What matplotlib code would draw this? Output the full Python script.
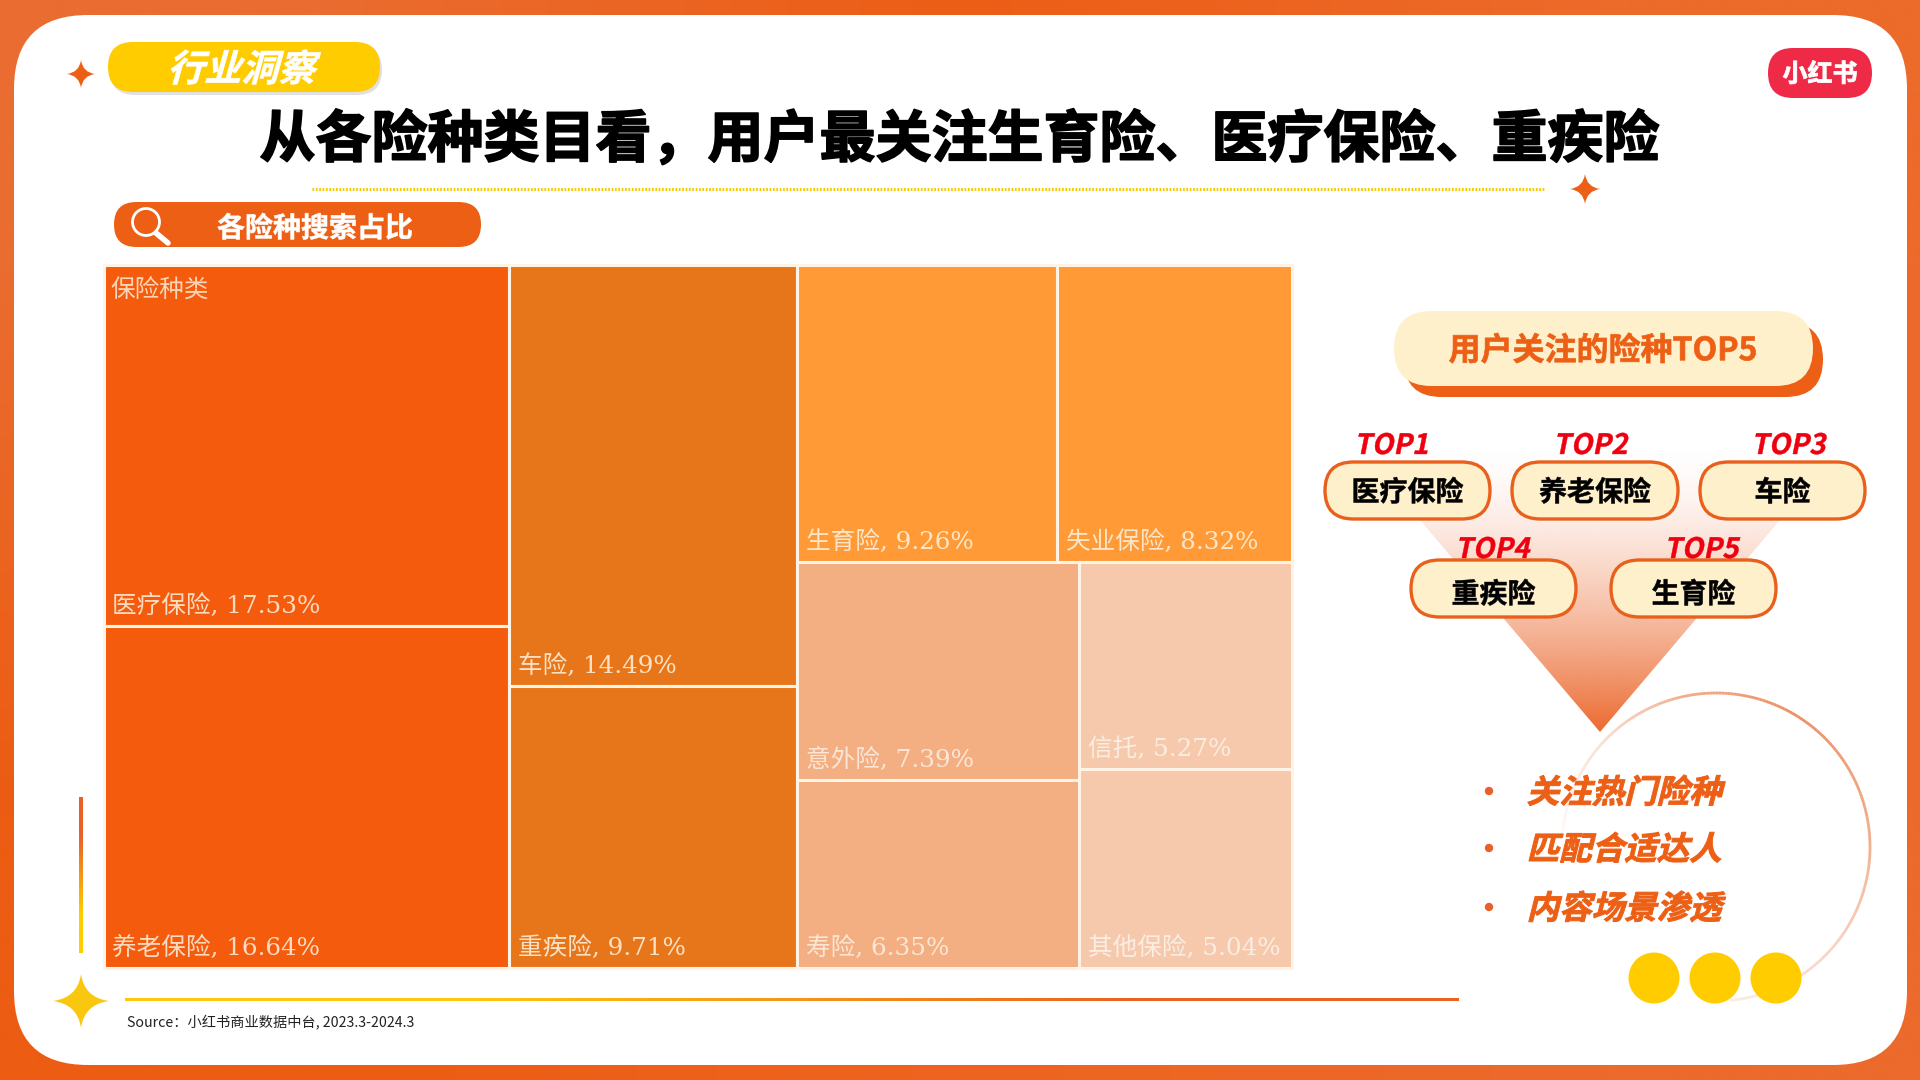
import numpy as np
import matplotlib
matplotlib.use("Agg")
import matplotlib.pyplot as plt
from matplotlib.patches import FancyBboxPatch, Polygon, Circle, PathPatch, Rectangle
from matplotlib.path import Path
from matplotlib.collections import LineCollection
from matplotlib.colors import to_rgb
from matplotlib.patheffects import AbstractPathEffect
from matplotlib.transforms import Affine2D

# ---------- data ----------
categories = ["医疗保险", "养老保险", "车险", "重疾险", "生育险", "失业保险", "意外险", "寿险", "信托", "其他保险"]
shares = [17.53, 16.64, 14.49, 9.71, 9.26, 8.32, 7.39, 6.35, 5.27, 5.04]
tile_colors = ["#F55B0D", "#F55B0D", "#E7761B", "#E7761B", "#FF9A37", "#FF9A37", "#F3AE82", "#F3AE82", "#F6C9AC", "#F6C9AC"]
label_colors = ["#FBDCC0", "#FBDCC0", "#FBE0C4", "#FBE0C4", "#FDE6C8", "#FDE6C8", "#FBE6D6", "#FBE6D6", "#FAEDE2", "#FAEDE2"]
tree = [[0, 1], [2, 3], [[4, 5], [[6, 7], [8, 9]]]]
root_label = "保险种类"
top_labels = ["TOP1", "TOP2", "TOP3", "TOP4", "TOP5"]
top_names = ["医疗保险", "养老保险", "车险", "重疾险", "生育险"]
bullets = ["关注热门险种", "匹配合适达人", "内容场景渗透"]

CJK = "Noto Sans CJK SC"
plt.rcParams["font.family"] = [CJK, "DejaVu Sans"]
LABEL_FONT = ["DejaVu Serif", CJK]
PX = 0.72
ORANGE = "#EC5F14"
YELLOW = "#FFCC00"
CREAM = "#FFF0CC"


class Styled(AbstractPathEffect):
    """Draw glyphs sheared about a baseline and/or thickened with a stroke."""
    def __init__(self, shear=0.0, y0=0.0, stroke=0.0):
        self.shear, self.y0, self.stroke = shear, y0, stroke

    def draw_path(self, renderer, gc, tpath, affine, rgbFace=None):
        a = affine
        if self.shear:
            a = affine + Affine2D().translate(0, -self.y0).skew(np.arctan(self.shear), 0).translate(0, self.y0)
        if self.stroke:
            g = renderer.new_gc()
            g.copy_properties(gc)
            g.set_linewidth(self.stroke)
            g.set_foreground(rgbFace)
            g.set_joinstyle("round")
            renderer.draw_path(g, tpath, a, rgbFace)
            g.restore()
        else:
            renderer.draw_path(gc, tpath, a, rgbFace)


fig = plt.figure(figsize=(19.2, 10.8), dpi=100)
ax = fig.add_axes([0, 0, 1, 1])
ax.axis("off")


def txt(x, y, s, px, color="black", ha="center", shear=0.0, stroke=0.0, weight="bold", z=10, family=None):
    y = y + 0.07 * px
    t = ax.text(x, y, s, fontsize=px * PX, color=color, ha=ha, va="center", weight=weight, zorder=z,
                family=family if family else [CJK, "DejaVu Sans"])
    if shear or stroke:
        t.set_path_effects([Styled(shear, 1080 - y, stroke)])
    return t


def pill(x0, y0, x1, y1, fc, ec="none", lw=0, z=5, alpha=None, r=None):
    r = (y1 - y0) / 2 if r is None else r
    p = FancyBboxPatch((x0, y0), x1 - x0, y1 - y0, boxstyle=f"round,pad=0,rounding_size={r}",
                       fc=fc, ec=ec, lw=lw, zorder=z, alpha=alpha, mutation_aspect=1)
    ax.add_patch(p)
    return p


def star(cx, cy, rx, ry, color, z=6):
    k = 0.12
    v = [(cx, cy - ry), (cx + rx * k, cy - ry * k), (cx + rx, cy), (cx + rx * k, cy + ry * k),
         (cx, cy + ry), (cx - rx * k, cy + ry * k), (cx - rx, cy), (cx - rx * k, cy - ry * k), (cx, cy - ry)]
    c = [Path.MOVETO] + [Path.CURVE3] * 8
    ax.add_patch(PathPatch(Path(v, c), fc=color, ec="none", zorder=z))


def gradient_line(x0, y0, x1, y1, c0, c1, z=4):
    a = np.array([to_rgb(c0), to_rgb(c1)])
    arr = a[None, :, :] if (x1 - x0) > (y1 - y0) else a[:, None, :]
    ax.imshow(arr, extent=(x0, x1, y1, y0), aspect="auto", interpolation="bilinear", zorder=z)


# ---------- frame ----------
ax.imshow(np.array([[to_rgb("#EA6C30"), to_rgb("#EC5E16"), to_rgb("#EC6A2A")],
                    [to_rgb("#EC5C12"), to_rgb("#EE6420"), to_rgb("#EB6A2C")]]),
          extent=(0, 1920, 1080, 0), aspect="auto", interpolation="bilinear", zorder=0)
pill(14, 15, 1907, 1065, "white", z=1, r=74)

# ---------- header ----------
pill(110, 45, 382, 95, "#000000", z=3, alpha=0.12)
pill(108, 42, 380, 92, YELLOW, z=4)
txt(244, 68, "行业洞察", 37, "white", shear=0.28, stroke=0.4)
star(81, 74, 14, 14, "#EC5F14")
txt(959.5, 137, "从各险种类目看，用户最关注生育险、医疗保险、重疾险", 56, "black", stroke=1.2)
ax.plot([312, 1545], [189, 189], color="#F5C800", lw=2.2, ls=(0, (0.55, 0.55)), zorder=3)
star(1585, 189, 15, 15, "#EC5F14")

pill(114, 202, 481, 247, ORANGE)
txt(315, 227, "各险种搜索占比", 28, "white", stroke=0.4)
ax.add_patch(Circle((146, 222), 13.5, fc="none", ec="white", lw=2.0, zorder=7))
ax.plot([156, 168], [233, 243], color="white", lw=4, solid_capstyle="round", zorder=7)

pill(1768, 48, 1872, 98, "#EE2A47")
txt(1820, 73, "小红书", 25, "white", stroke=0.6)

# ---------- treemap ----------
X0, X1, Y0, Y1 = 103.5, 1291.5, 265, 968
tm = fig.add_axes([X0 / 1920, 1 - Y1 / 1080, (X1 - X0) / 1920, (Y1 - Y0) / 1080])
tm.set_xlim(0, 1)
tm.set_ylim(1, 0)
tm.axis("off")
tm.set_zorder(2)


def weight(node):
    return shares[node] if isinstance(node, int) else sum(weight(n) for n in node)


def lay(node, x, y, w, h, depth, out):
    if isinstance(node, int):
        out[node] = (x, y, w, h)
        return
    total = weight(node)
    for n in node:
        f = weight(n) / total
        if depth % 2 == 0:
            lay(n, x, y, w * f, h, depth + 1, out)
            x += w * f
        else:
            lay(n, x, y, w, h * f, depth + 1, out)
            y += h * f


rects = {}
lay(tree, 0, 0, 1, 1, 0, rects)
for i, name in enumerate(categories):
    x, y, w, h = rects[i]
    tm.add_patch(Rectangle((x, y), w, h, fc=tile_colors[i], ec="#FFF3E6", lw=2.2, clip_on=False))
    tm.annotate(f"{name}, {shares[i]:.2f}%", (x, y + h), xytext=(9 * PX, 20 * PX), textcoords="offset points",
                fontsize=24.6 * PX, color=label_colors[i], ha="left", va="center", family=LABEL_FONT)
tm.annotate(root_label, (0, 0), xytext=(7 * PX, -25 * PX), textcoords="offset points",
            fontsize=24.6 * PX, color="#FBD5B8", ha="left", va="center", family=LABEL_FONT)

# ---------- left / bottom accents ----------
gradient_line(79, 797, 83, 953, "#E8602A", "#FFCC00")
star(81, 1001, 28, 27, "#F9C80E")
gradient_line(125, 998.5, 1459, 1001.5, "#FFC810", "#EA6420")
txt(127, 1022, "Source：小红书商业数据中台, 2023.3-2024.3", 14.2, "#222222", ha="left", weight="normal")

# ---------- TOP5 panel ----------
pill(1404, 322, 1823, 397, ORANGE, z=4)
pill(1394, 311, 1813, 386, CREAM, z=5)
txt(1603, 349, "用户关注的险种TOP5", 32, ORANGE, stroke=0.5)

apex = (1600, 732)
tri = Polygon([(1352, 440), (1848, 440), apex], closed=True, fc="none", ec="none", zorder=1.5)
ax.add_patch(tri)
n = 256
grad = np.ones((n, 1, 4))
grad[:, 0, :3] = to_rgb("#EC6A30")
grad[:, 0, 3] = np.linspace(0, 1, n) ** 1.6
im = ax.imshow(grad, extent=(1352, 1848, 732, 440), aspect="auto", interpolation="bilinear", zorder=1.6)
im.set_clip_path(tri)

pill_boxes = [(1325, 462, 1490, 519), (1512, 462, 1678, 519), (1700, 462, 1865, 519),
              (1411, 560, 1576, 617), (1611, 560, 1776, 617)]
name_y = [491, 491, 491, 593, 593]
top_pos = [(1393, 444), (1592, 444), (1790, 444), (1494, 548), (1703, 548)]
for box, ny, pos, lab, nm in zip(pill_boxes, name_y, top_pos, top_labels, top_names):
    pill(*box, CREAM, ec="#E8601C", lw=2.4, z=5)
    txt((box[0] + box[2]) / 2, ny, nm, 28, "black", stroke=0.35)
    txt(pos[0], pos[1], lab, 28, "#EE0010", shear=0.2, stroke=0.3, z=6)

# ---------- circle + bullets ----------
cx, cy, R = 1716, 847, 154
th = np.radians(np.linspace(180, -85, 240))
pts = np.column_stack([cx + R * np.cos(th), cy - R * np.sin(th)])
deg = np.degrees(th)
alpha = np.interp(deg, [-85, -40, 0, 60, 100, 140, 180], [0.12, 0.3, 0.55, 0.8, 0.6, 0.2, 0.02])
rgb = to_rgb("#E8703A")
lc = LineCollection(np.stack([pts[:-1], pts[1:]], axis=1), colors=[(*rgb, a) for a in alpha[:-1]],
                    linewidths=2.0, zorder=3)
ax.add_collection(lc)

for y, s in zip([791, 848, 907], bullets):
    ax.add_patch(Circle((1489, y), 4.2, fc="#E8602A", ec="none", zorder=6))
    txt(1529, y, s, 32.5, ORANGE, ha="left", shear=0.25, stroke=0.7)

for x in [1654, 1715, 1776]:
    ax.add_patch(Circle((x, 978), 25.5, fc=YELLOW, ec="none", zorder=6))

ax.set_xlim(0, 1920)
ax.set_ylim(1080, 0)
fig.savefig("out.png", dpi=100)
